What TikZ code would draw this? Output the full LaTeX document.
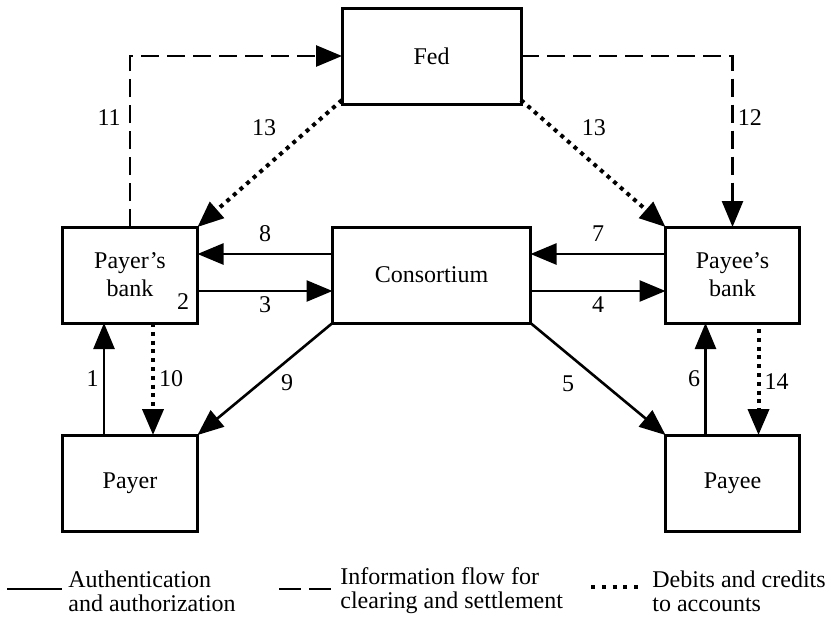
\documentclass[tikz,border=0pt]{standalone}
\usepackage{fontspec}
\setmainfont{Liberation Serif}
\usetikzlibrary{positioning,arrows.meta}

\begin{document}
\begin{tikzpicture}[x=0.5pt, y=-0.5pt, >={Triangle[length=13pt,width=10.5pt]}, node distance=67.5pt,
	box/.style={rectangle, draw, line width=1.5pt, minimum height=48pt, outer sep=0pt, align=center, font=\fontsize{12}{14}\selectfont},
	num/.style={inner sep=2pt, font=\fontsize{12}{14}\selectfont},
	auth/.style={->, line width=1.3pt},
	info/.style={->, line width=1.3pt, dash pattern=on 9pt off 4pt},
	debit/.style={->, line width=2pt, dash pattern=on 2pt off 2.4pt},
	legend/.style={align=left, inner sep=0pt, anchor=west, font=\fontsize{12}{12}\selectfont}]
	\useasboundingbox (0,0) rectangle (828,616);

	\node[box, minimum width=67.5pt] (pbank) at (130,275)      {Payer’s\\bank};
	\node[box, minimum width=99pt] (cons) [right=of pbank]      {Consortium};
	\node[box, minimum width=67pt] (ebank) [right=of cons]      {Payee’s\\bank};
	\node[box, minimum width=89.5pt] (fed) [above=61.5pt of cons] {Fed};
	\node[box, minimum width=67.5pt] (payer) [below=56pt of pbank] {Payer};
	\node[box, minimum width=67pt] (payee) [below=56pt of ebank]  {Payee};
	\node[num, above left=4.5pt and 2pt] (two) at (pbank.south east) {2};

	% clearing and settlement
	\draw[info] (pbank.north) |- node[num, left=2pt, pos=0.32] {11} (fed.west);
	\draw[info] (fed.east) -| node[num, right, pos=0.68] {12} (ebank.north);

	% debits and credits
	\draw[debit] ([yshift=2pt]fed.south west) -- node[num, pos=0.4, xshift=-10pt, yshift=11.5pt] {13} (pbank.north east);
	\draw[debit] ([yshift=2pt]fed.south east) -- node[num, pos=0.4, xshift=7.5pt, yshift=11.5pt] {13} (ebank.north west);
	\draw[debit] ([xshift=11.5pt]pbank.south) -- node[num, right] {10} ([xshift=11.5pt]payer.north);
	\draw[debit] ([xshift=13pt, yshift=-3pt]ebank.south) -- node[num, right] {14} ([xshift=13pt]payee.north);

	% authentication and authorization
	\path ([xshift=-13pt]payer.north) edge[auth] node[num, left] {1} ([xshift=-13pt]pbank.south)
	([yshift=-8pt]pbank.east) edge[auth] node[num, below] {3} ([yshift=-8pt]cons.west)
	([yshift=-8pt]cons.east) edge[auth] node[num, below] {4} ([yshift=-8pt]ebank.west)
	(cons.south east) edge[auth] node[num, xshift=-15pt, yshift=-2.5pt] {5} (payee.north west)
	([xshift=-13.5pt]payee.north) edge[auth] node[num, left] {6} ([xshift=-13.5pt]ebank.south)
	([yshift=10.5pt]ebank.west) edge[auth] node[num, above=3.5pt] {7} ([yshift=10.5pt]cons.east)
	([yshift=10.5pt]cons.west) edge[auth] node[num, above=3.5pt] {8} ([yshift=10.5pt]pbank.east)
	(cons.south west) edge[auth] node[num, xshift=11pt, yshift=-2pt] {9} (payer.north east);

	% legend
	\coordinate (s1) at (7,589);
	\coordinate (s2) at (62,589);
	\coordinate (d1) at (279,589);
	\coordinate (d2) at (332,589);
	\coordinate (p1) at (591,587);
	\coordinate (p2) at (638,587);
	\draw[line width=1.3pt] (s1) -- (s2);
	\draw[line width=1.3pt, dash pattern=on 11pt off 4pt] (d1) -- (d2);
	\draw[line width=2pt, dash pattern=on 2pt off 3.4pt] (p1) -- (p2);
	\node[legend] (t1) at (68,591)  {Authentication\\and authorization};
	\node[legend] (t2) at (340,591) {Information flow for\\clearing and settlement};
	\node[legend] (t3) at (652,591) {Debits and credits\\to accounts};
\end{tikzpicture}
\end{document}
